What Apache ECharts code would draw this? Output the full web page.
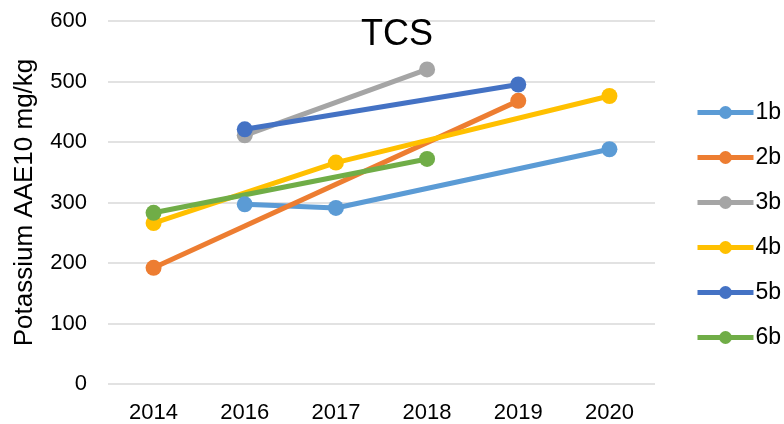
<!DOCTYPE html>
<html>
<head>
<meta charset="utf-8">
<script src="https://cdn.jsdelivr.net/npm/echarts@6/dist/echarts.min.js"></script>
<style>
html, body { margin: 0; padding: 0; background: #fff; }
#chart { width: 784px; height: 424px; }
</style>
</head>
<body>
<div id="chart"></div>
<script>
// data
const years = ['2014', '2016', '2017', '2018', '2019', '2020'];
const s1b = [null, 297, 291, null, null, 388];
const s2b = [192, null, null, null, 468, null];
const s3b = [null, 411, null, 520, null, null];
const s4b = [266, null, 366, null, null, 476];
const s5b = [null, 421, null, null, 495, null];
const s6b = [283, null, null, 372, null, null];
const seriesNames = ['1b', '2b', '3b', '4b', '5b', '6b'];
const seriesColors = ['#5B9BD5', '#ED7D31', '#A5A5A5', '#FFC000', '#4472C4', '#70AD47'];
const seriesData = [s1b, s2b, s3b, s4b, s5b, s6b];

const font = 'Liberation Sans, Arial, sans-serif';

const myChart = echarts.init(document.getElementById('chart'));
myChart.setOption({
    animation: false,
    color: seriesColors,
    title: {
        text: 'TCS',
        left: 392,
        top: 12,
        textAlign: 'center',
        textStyle: { fontFamily: font, fontSize: 36, fontWeight: 'normal', color: '#000' }
    },
    legend: {
        orient: 'vertical',
        left: 695,
        top: 101,
        padding: 0,
        itemWidth: 56,
        itemHeight: 16,
        itemGap: 22,
        data: seriesNames,
        lineStyle: { width: 5 },
        textStyle: { fontFamily: font, fontSize: 23, color: '#000', padding: [0, 0, 0, -3] }
    },
    grid: {
        left: 108,
        right: 129,
        top: 21,
        bottom: 37
    },
    xAxis: {
        type: 'category',
        data: years,
        boundaryGap: true,
        axisLine: { show: false },
        axisTick: { show: false },
        axisLabel: { fontFamily: font, fontSize: 22, color: '#000', margin: 18 }
    },
    yAxis: {
        type: 'value',
        min: 0,
        max: 600,
        interval: 100,
        name: 'Potassium AAE10 mg/kg',
        nameLocation: 'middle',
        nameGap: 70,
        nameTextStyle: { fontFamily: font, fontSize: 26, color: '#000' },
        axisLine: { show: false },
        axisTick: { show: false },
        axisLabel: { fontFamily: font, fontSize: 22, color: '#000', margin: 21 },
        splitLine: { lineStyle: { color: '#D9D9D9', width: 1.5 } }
    },
    series: seriesNames.map((name, i) => ({
        name: name,
        type: 'line',
        data: seriesData[i],
        connectNulls: true,
        symbol: 'circle',
        symbolSize: 16,
        lineStyle: { width: 5, color: seriesColors[i] },
        itemStyle: { color: seriesColors[i] }
    }))
});
</script>
</body>
</html>
